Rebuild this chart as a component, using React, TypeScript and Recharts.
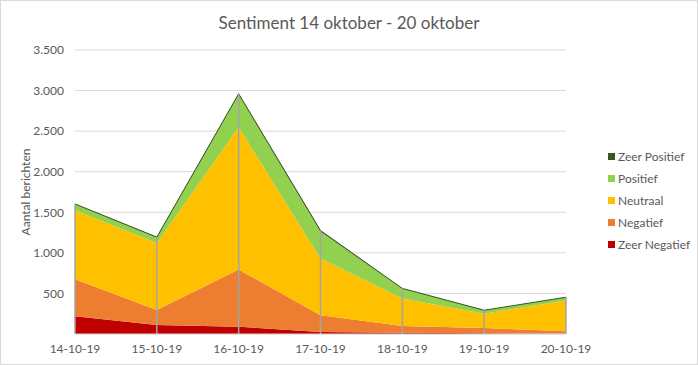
import { AreaChart, Area, XAxis, YAxis, CartesianGrid, ReferenceLine } from 'recharts';

const dates = ['14-10-19', '15-10-19', '16-10-19', '17-10-19', '18-10-19', '19-10-19', '20-10-19'];
const zeerNegatief = [220, 110, 90, 25, 15, 8, 3];
const negatief = [455, 185, 705, 205, 85, 66, 30];
const neutraal = [850, 828, 1754, 700, 337, 177, 381];
const positief = [73, 66, 402, 333, 120, 40, 37];
const zeerPositief = [5, 5, 10, 12, 5, 2, 2];
const yTicks = [500, 1000, 1500, 2000, 2500, 3000, 3500];

const series = [
  { key: 'zn', name: 'Zeer Negatief', color: '#C00000' },
  { key: 'neg', name: 'Negatief', color: '#ED7D31' },
  { key: 'neu', name: 'Neutraal', color: '#FFC000' },
  { key: 'pos', name: 'Positief', color: '#92D050' },
  { key: 'zp', name: 'Zeer Positief', color: '#375623' },
];

const chartData = dates.map((d, i) => ({
  date: d,
  zn: zeerNegatief[i],
  neg: negatief[i],
  neu: neutraal[i],
  pos: positief[i],
  zp: zeerPositief[i],
  total: zeerNegatief[i] + negatief[i] + neutraal[i] + positief[i] + zeerPositief[i],
}));

const FONT = 'Lato, "Open Sans", sans-serif';
const TEXT = '#595959';

const fmt = (v: number) => String(v).replace(/\B(?=(\d{3})+(?!\d))/g, '.');

// legend is plain html, Excel lists the series top-down in reverse order
function LegendBox() {
  return (
    <div style={{ position: 'absolute', left: 607, top: 144, fontFamily: FONT, fontSize: 12, color: TEXT }}>
      {[...series].reverse().map((s) => (
        <div key={s.key} style={{ display: 'flex', alignItems: 'center', height: 22 }}>
          <span style={{ width: 7, height: 7, background: s.color, marginRight: 3, display: 'inline-block' }} />
          {s.name}
        </div>
      ))}
    </div>
  );
}

export default function App() {
  return (
    <div
      style={{
        position: 'absolute',
        left: 0,
        top: 0,
        width: 698,
        height: 365,
        boxSizing: 'border-box',
        border: '1px solid #d9d9d9',
        background: '#fff',
      }}
    >
      <div
        style={{
          position: 'absolute',
          left: 0,
          width: 696,
          top: 11,
          textAlign: 'center',
          fontFamily: FONT,
          fontSize: 17,
          color: TEXT,
        }}
      >
        Sentiment 14 oktober - 20 oktober
      </div>
      <div style={{ position: 'absolute', left: -1, top: -1 }}>
        <AreaChart width={698} height={365} data={chartData} margin={{ top: 50, right: 132, bottom: 0, left: 0 }}>
          <CartesianGrid vertical={false} stroke="#d9d9d9" />
          <XAxis
            dataKey="date"
            height={31}
            tickLine={false}
            axisLine={{ stroke: '#d9d9d9' }}
            tick={{ fontSize: 12, fill: TEXT, fontFamily: FONT }}
            tickMargin={4}
            interval={0}
          />
          <YAxis
            width={75}
            domain={[0, 3500]}
            ticks={yTicks}
            tickFormatter={fmt}
            axisLine={false}
            tickLine={false}
            tickMargin={5}
            tick={{ fontSize: 12, fill: TEXT, fontFamily: FONT }}
            label={{
              value: 'Aantal berichten',
              angle: -90,
              position: 'insideLeft',
              offset: 26,
              style: { textAnchor: 'middle', fontSize: 12, fill: TEXT, fontFamily: FONT },
            }}
          />
          {series.map((s) => (
            <Area
              key={s.key}
              type="linear"
              dataKey={s.key}
              name={s.name}
              stackId="1"
              fill={s.color}
              fillOpacity={1}
              stroke={s.key === 'zp' ? s.color : 'none'}
              strokeWidth={1}
              isAnimationActive={false}
            />
          ))}
          {chartData.map((d) => (
            <ReferenceLine
              key={d.date}
              segment={[
                { x: d.date, y: 0 },
                { x: d.date, y: d.total },
              ]}
              stroke="#a5a5a5"
              strokeWidth={1.5}
            />
          ))}
        </AreaChart>
      </div>
      <LegendBox />
    </div>
  );
}
